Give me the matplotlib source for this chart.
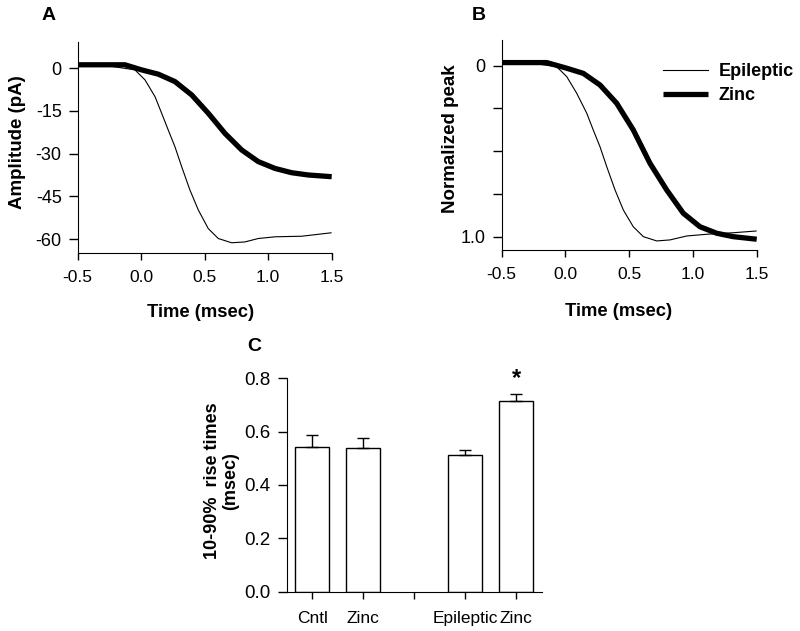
import matplotlib
matplotlib.use("Agg")
import matplotlib.pyplot as plt

plt.rcParams['font.family'] = ['Liberation Sans', 'DejaVu Sans']
plt.rcParams['axes.unicode_minus'] = False

# Panel A data (pA)
tA_epi = [-0.5, -0.3, -0.049, 0.03, 0.109, 0.161, 0.213, 0.266, 0.319, 0.384, 0.45, 0.528, 0.607, 0.712, 0.817, 0.922, 1.054, 1.264, 1.495]
vA_epi = [1.2, 1.1, -0.6, -4.1, -10.0, -15.8, -21.7, -27.6, -34.6, -42.8, -49.8, -56.3, -59.8, -61.3, -61.0, -59.8, -59.2, -59.0, -57.8]
tA_zn = [-0.5, -0.128, 0.004, 0.135, 0.266, 0.398, 0.528, 0.66, 0.791, 0.922, 1.054, 1.185, 1.316, 1.5]
vA_zn = [1.2, 1.2, -0.6, -2.1, -4.7, -9.4, -15.8, -22.9, -28.7, -32.8, -35.2, -36.7, -37.5, -38.1]

# Panel B data (normalized peak)
tB_epi = [-0.5, -0.3, -0.069, 0.01, 0.088, 0.167, 0.218, 0.271, 0.324, 0.389, 0.454, 0.532, 0.611, 0.716, 0.82, 0.951, 1.108, 1.316, 1.495]
vB_epi = [-0.018, -0.018, 0.006, 0.064, 0.161, 0.278, 0.376, 0.474, 0.591, 0.727, 0.844, 0.942, 1.0, 1.025, 1.019, 0.996, 0.986, 0.977, 0.967]
tB_zn = [-0.5, -0.147, 0.01, 0.14, 0.271, 0.402, 0.532, 0.663, 0.794, 0.924, 1.055, 1.186, 1.316, 1.5]
vB_zn = [-0.018, -0.018, 0.015, 0.045, 0.113, 0.22, 0.376, 0.571, 0.727, 0.863, 0.942, 0.98, 1.0, 1.015]

# Panel C data
categories = ['Cntl', 'Zinc', '', 'Epileptic', 'Zinc']
bar_pos = [0, 1, 3, 4]
bar_vals = [0.544, 0.540, 0.514, 0.716]
bar_err = [0.044, 0.036, 0.018, 0.025]

fig = plt.figure(figsize=(8, 6.31), dpi=100)

def style(ax):
    for s in ['top', 'right']:
        ax.spines[s].set_visible(False)
    ax.tick_params(axis='x', direction='out', length=5, width=1, labelsize=12.5, pad=7)
    ax.tick_params(axis='y', direction='out', length=6.5, width=1, labelsize=13, pad=5)

# Panel A
axA = fig.add_axes([0.0971, 0.599, 0.3175, 0.3349])
axA.plot(tA_epi, vA_epi, color='black', lw=0.8)
axA.plot(tA_zn, vA_zn, color='black', lw=3.8, solid_capstyle='butt')
axA.set_xlim(-0.5, 1.5)
axA.set_ylim(-64.9, 9.3)
axA.set_xticks([-0.5, 0.0, 0.5, 1.0, 1.5])
axA.set_xticklabels(['-0.5', '0.0', '0.5', '1.0', '1.5'])
axA.set_yticks([0, -15, -30, -45, -60])
style(axA)
axA.set_xlabel('Time (msec)', fontsize=13.2, fontweight='bold')
axA.xaxis.set_label_coords(0.483, -0.241)
axA.set_ylabel('Amplitude (pA)', fontsize=13.5, fontweight='bold')
axA.yaxis.set_label_coords(-0.204, 0.523)
fig.text(0.0525, 0.976, 'A', fontsize=14, fontweight='bold', va='center')

# Panel B
axB = fig.add_axes([0.6271, 0.6038, 0.3188, 0.3328])
axB.plot(tB_epi, vB_epi, color='black', lw=0.8, label='Epileptic')
axB.plot(tB_zn, vB_zn, color='black', lw=3.8, solid_capstyle='butt', label='Zinc')
axB.set_xlim(-0.5, 1.5)
axB.set_ylim(1.078, -0.15)
axB.set_xticks([-0.5, 0.0, 0.5, 1.0, 1.5])
axB.set_xticklabels(['-0.5', '0.0', '0.5', '1.0', '1.5'])
axB.set_yticks([0, 0.25, 0.5, 0.75, 1.0])
axB.set_yticklabels(['0', '', '', '', '1.0'])
style(axB)
axB.set_xlabel('Time (msec)', fontsize=13.2, fontweight='bold')
axB.xaxis.set_label_coords(0.46, -0.251)
axB.set_ylabel('Normalized peak', fontsize=13.5, fontweight='bold')
axB.yaxis.set_label_coords(-0.167, 0.531)
axB.legend(loc='upper left', bbox_to_anchor=(663 / 800, 1 - 63 / 631),
           bbox_transform=fig.transFigure, frameon=False,
           prop={'weight': 'bold', 'size': 13}, handlelength=2.5,
           handletextpad=0.6, labelspacing=0.4, borderpad=0, borderaxespad=0)
fig.text(0.59, 0.976, 'B', fontsize=14, fontweight='bold', va='center')

# Panel C
axC = fig.add_axes([0.3584, 0.0623, 0.3188, 0.3382])
axC.bar(bar_pos, bar_vals, width=0.67, color='white', edgecolor='black', lw=1)
axC.errorbar(bar_pos, bar_vals, yerr=[[0] * len(bar_err), bar_err], fmt='none',
             ecolor='black', elinewidth=1, capsize=4, capthick=1)
axC.text(4, 0.80, '*', ha='center', va='center', fontsize=17, fontweight='bold')
axC.set_xlim(-0.5, 4.5)
axC.set_ylim(0, 0.8)
axC.set_xticks(range(len(categories)))
axC.set_xticklabels(categories)
axC.set_yticks([0.0, 0.2, 0.4, 0.6, 0.8])
axC.set_yticklabels(['0.0', '0.2', '0.4', '0.6', '0.8'])
style(axC)
axC.tick_params(axis='y', labelsize=13.5)
axC.tick_params(axis='x', labelsize=12.5, pad=9)
axC.set_ylabel('10-90%  rise times\n(msec)', fontsize=13, fontweight='bold', linespacing=1.05)
axC.yaxis.set_label_coords(-0.187, 0.519)
fig.text(0.309, 0.451, 'C', fontsize=14, fontweight='bold', va='center')

fig.savefig('out.png', dpi=100)
